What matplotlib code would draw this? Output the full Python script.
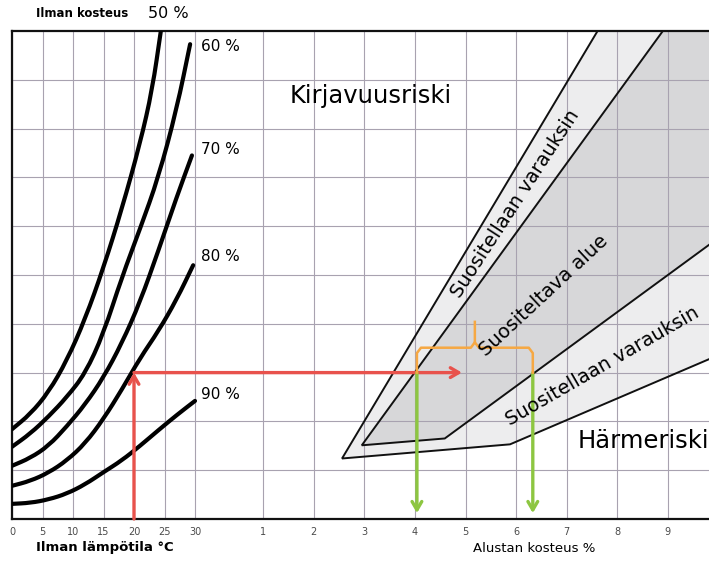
import matplotlib
matplotlib.use("Agg")
import matplotlib.pyplot as plt
from matplotlib.patches import Polygon, PathPatch
from matplotlib.path import Path

# ---------------- data ----------------
# relative-humidity curves: air temperature (°C) vs. chart level (grid rows)
rh50_T = [0, 3, 6, 9, 12, 15, 18, 21, 23, 24.4]
rh50_y = [1.84, 2.15, 2.6, 3.25, 4.1, 5.15, 6.35, 7.7, 8.8, 10.0]
rh60_T = [0, 3, 6, 9, 12, 15, 18, 21, 24, 27, 29.2]
rh60_y = [1.48, 1.75, 2.1, 2.5, 2.98, 3.8, 4.95, 5.95, 7.0, 8.4, 9.73]
rh70_T = [0, 3, 6, 9, 12, 15, 18, 21, 24, 27, 29.5]
rh70_y = [1.09, 1.25, 1.5, 1.9, 2.35, 2.9, 3.6, 4.45, 5.5, 6.6, 7.45]
rh80_T = [0, 3, 6, 9, 12, 15, 18, 21, 24, 27, 29.7]
rh80_y = [0.68, 0.78, 0.95, 1.2, 1.55, 2.05, 2.65, 3.3, 3.85, 4.5, 5.2]
rh90_T = [0, 3, 6, 9, 12, 15, 18, 21, 24, 27, 30]
rh90_y = [0.31, 0.33, 0.4, 0.52, 0.71, 0.96, 1.2, 1.5, 1.82, 2.13, 2.42]
rh_labels = ["60 %", "70 %", "80 %", "90 %"]
rh_label_y = [9.69, 7.58, 5.37, 2.56]

# substrate moisture zones (moisture %, chart level)
outer_m = [2.56, 7.61, 10.5, 10.5, 5.88]
outer_y = [1.24, 10.0, 10.0, 3.58, 1.53]
inner_m = [2.95, 8.90, 10.5, 10.5, 4.59]
inner_y = [1.51, 10.0, 10.0, 6.14, 1.65]

# example reading
example_T = 20
example_level = 3.0
arrow_end_m = 4.93
range_low_m = 4.04
range_high_m = 6.33
bracket_level = 3.51
bracket_tip = 4.04

temp_ticks = [0, 5, 10, 15, 20, 25, 30]
moist_ticks = [1, 2, 3, 4, 5, 6, 7, 8, 9]
level_grid = [1, 2, 3, 4, 5, 6, 7, 8, 9]

# ---------------- scale helpers ----------------
PX_PER_M, M0_PX, T0_PX, PX_PER_T = 50.6, 212.5, 12.0, 6.1


def X(T):
    return (T0_PX - M0_PX + PX_PER_T * T) / PX_PER_M


def smooth_path(xs, ys):
    """Quadratic-Bezier path through the midpoints (rendering only)."""
    pts = list(zip(xs, ys))
    verts = [pts[0]]
    codes = [Path.MOVETO]
    mids = [((pts[i][0] + pts[i + 1][0]) / 2, (pts[i][1] + pts[i + 1][1]) / 2)
            for i in range(len(pts) - 1)]
    verts.append(mids[0]); codes.append(Path.LINETO)
    for i in range(1, len(pts) - 1):
        verts += [pts[i], mids[i]]
        codes += [Path.CURVE3, Path.CURVE3]
    verts.append(pts[-1]); codes.append(Path.LINETO)
    return Path(verts, codes)


FONT = "DejaVu Sans"
plt.rcParams["font.family"] = FONT

fig = plt.figure(figsize=(7.09, 5.61), dpi=100)
ax = fig.add_axes([12 / 709, 42 / 561, 697 / 709, 488 / 561])
ax.set_xlim(X(0), (709 - M0_PX) / PX_PER_M)
ax.set_ylim(0, 10)

# grid / ticks
ax.set_xticks([X(t) for t in temp_ticks] + moist_ticks)
ax.set_xticklabels([str(t) for t in temp_ticks] + [str(m) for m in moist_ticks])
ax.set_yticks(level_grid)
ax.set_yticklabels([])
ax.tick_params(length=0, labelsize=7, colors="#4a4a4a", pad=6)
ax.set_axisbelow(True)
ax.grid(True, color="#a8a2b0", lw=0.8)
for s in ["top", "left", "bottom"]:
    ax.spines[s].set_linewidth(1.6)
    ax.spines[s].set_color("#111111")
ax.spines["right"].set_visible(False)

# zones
ax.add_patch(Polygon(list(zip(outer_m, outer_y)), closed=True, facecolor="#ededee",
                     edgecolor="none", zorder=0.2))
ax.add_patch(Polygon(list(zip(inner_m, inner_y)), closed=True, facecolor="#d7d7d9",
                     edgecolor="none", zorder=0.3))
for mm, yy in [(outer_m, outer_y), (inner_m, inner_y)]:
    ax.plot([mm[1], mm[0], mm[4], mm[3]], [yy[1], yy[0], yy[4], yy[3]],
            color="#111111", lw=1.4, zorder=2, solid_joinstyle="miter")

# humidity curves
for Ts, ys in [(rh50_T, rh50_y), (rh60_T, rh60_y), (rh70_T, rh70_y),
               (rh80_T, rh80_y), (rh90_T, rh90_y)]:
    ax.add_patch(PathPatch(smooth_path([X(t) for t in Ts], ys), facecolor="none",
                           edgecolor="black", lw=3.0, zorder=3, capstyle="round",
                           joinstyle="round"))
for lab, yy in zip(rh_labels, rh_label_y):
    ax.text(X(31), yy, lab, fontsize=11, ha="left", va="center", zorder=5)

# example arrows
red = "#e8524c"
green = "#8dc641"
orange = "#f6a843"
ax.annotate("", xy=(X(example_T), example_level), xytext=(X(example_T), 0),
            arrowprops=dict(arrowstyle="->,head_length=0.6,head_width=0.35",
                            color=red, lw=2.4, shrinkA=0, shrinkB=0), zorder=4)
ax.annotate("", xy=(arrow_end_m, example_level), xytext=(X(example_T), example_level),
            arrowprops=dict(arrowstyle="->,head_length=0.6,head_width=0.35",
                            color=red, lw=2.4, shrinkA=0, shrinkB=0), zorder=4)
for mx in [range_low_m, range_high_m]:
    ax.annotate("", xy=(mx, 0.12), xytext=(mx, example_level),
                arrowprops=dict(arrowstyle="->,head_length=0.6,head_width=0.35",
                                color=green, lw=2.4, shrinkA=0, shrinkB=0), zorder=4)
mid = (range_low_m + range_high_m) / 2
d = 0.08
ax.plot([range_low_m, range_low_m, range_low_m + d, mid - d, mid, mid],
        [example_level, bracket_level - 0.11, bracket_level, bracket_level,
         bracket_level + 0.11, bracket_tip], color=orange, lw=1.8, zorder=4.5)
ax.plot([mid, mid + d, range_high_m - d, range_high_m, range_high_m],
        [bracket_level + 0.11, bracket_level, bracket_level, bracket_level - 0.11,
         example_level], color=orange, lw=1.8, zorder=4.5)

# texts
ax.text(3.13, 8.67, "Kirjavuusriski", fontsize=17.5, ha="center", va="center", zorder=5)
ax.text(8.52, 1.59, "Härmeriski", fontsize=17.5, ha="center", va="center", zorder=5)
ax.text(5.99, 6.45, "Suositellaan varauksin", fontsize=14, rotation=57,
        ha="center", va="center", rotation_mode="anchor", zorder=5)
ax.text(6.55, 4.57, "Suositeltava alue", fontsize=14, rotation=43,
        ha="center", va="center", rotation_mode="anchor", zorder=5)
ax.text(7.70, 3.12, "Suositellaan varauksin", fontsize=14, rotation=30,
        ha="center", va="center", rotation_mode="anchor", zorder=5)

ax.text(X(11.5), 10.35, "Ilman kosteus", fontsize=8.5, fontweight="bold",
        ha="center", va="center", clip_on=False)
ax.text(X(25.7), 10.35, "50 %", fontsize=11.5, ha="center", va="center", clip_on=False)

fig.text(105 / 709, 1 - 548 / 561, "Ilman lämpötila °C", fontsize=9.5, fontweight="bold",
         ha="center", va="center")
fig.text(534 / 709, 1 - 548 / 561, "Alustan kosteus %", fontsize=9.5,
         ha="center", va="center")

fig.savefig("out.png", dpi=100)
